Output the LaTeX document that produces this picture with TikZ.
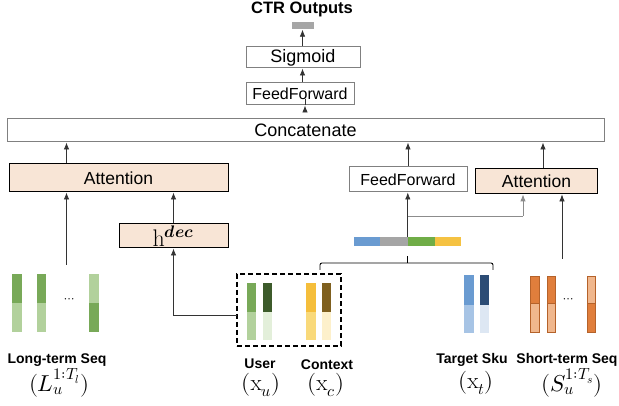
\documentclass[tikz,border=0pt]{standalone}
\usepackage{amsmath}
\usepackage{fontspec}
\usepackage{unicode-math}
\setmathfont{Latin Modern Math}
\setsansfont{Liberation Sans}
\usepackage{tikz}
\usetikzlibrary{calc}
\usetikzlibrary{arrows.meta}
\usetikzlibrary{positioning}
\definecolor{peach}{HTML}{F8E5D6}
\definecolor{gdark}{HTML}{78A958}
\definecolor{glight}{HTML}{B2D19C}
\definecolor{udark}{HTML}{3D5B2B}
\definecolor{ulight}{HTML}{E3EFDA}
\definecolor{cdark}{HTML}{F5BE3B}
\definecolor{clight}{HTML}{F9D97A}
\definecolor{cbrown}{HTML}{7F601F}
\definecolor{cpale}{HTML}{FDF0CB}
\definecolor{tdark}{HTML}{6A9BD1}
\definecolor{tlight}{HTML}{A7C4E5}
\definecolor{tnavy}{HTML}{2C4C75}
\definecolor{tpale}{HTML}{DDE7F3}
\definecolor{odark}{HTML}{E07E3C}
\definecolor{olight}{HTML}{F0B78D}
\definecolor{obord}{HTML}{B5622A}
\definecolor{embgray}{HTML}{A5A5A5}
\definecolor{embgreen}{HTML}{70AD47}
\definecolor{embyellow}{HTML}{F5C242}

\begin{document}
\begin{tikzpicture}[x=1pt,y=-1pt,
every node/.style={font=\sffamily},
box/.style={draw=black!50,line width=1pt,fill=white,inner sep=0pt},
attbox/.style={draw=black,line width=1pt,fill=peach,inner sep=0pt},
cell/.style={inner sep=0pt,minimum width=9.5pt,minimum height=29pt},
ocell/.style={cell,draw=obord,line width=.8pt,minimum width=8.5pt},
emb/.style={inner sep=0pt,minimum width=27pt,minimum height=9pt},
lbl/.style={font=\sffamily\bfseries\fontsize{14}{16}\selectfont},
mlbl/.style={font=\fontsize{23}{26}\selectfont},
-->/.style={->,>={Latex[length=7pt,width=5.5pt]},line width=.75pt,draw=black!80},
bus/.style={line width=.9pt,draw=black!45},
]
\useasboundingbox (0,0) rectangle (619,406);

\node[font=\sffamily\bfseries\fontsize{16.5}{18}\selectfont] (ctr) at (302,9) {CTR Outputs};
\node[fill=black!35,minimum width=22pt,minimum height=7pt,inner sep=0pt] (out) at (302.5,26) {};
\node[box,minimum width=114pt,minimum height=21pt,font=\sffamily\fontsize{18}{20}\selectfont] (sigmoid) at (303,57.5) {Sigmoid};
\node[box,minimum width=108pt,minimum height=22pt,font=\sffamily\fontsize{16}{18}\selectfont] (ffTop) at (300,94) {FeedForward};
\node[box,minimum width=597pt,minimum height=23pt,font=\sffamily\fontsize{18}{20}\selectfont] (concat) at (305.5,130.5) {Concatenate};

\node[attbox,minimum width=219pt,minimum height=28pt,font=\sffamily\fontsize{17.5}{19}\selectfont] (attL) at (118.5,178) {Attention};
\node[attbox,minimum width=109pt,minimum height=24pt,font=\fontsize{24}{24}\selectfont] (hdec) at (173.5,236) {$\mathrm{h}^{\symbfit{dec}}$};
\node[box,minimum width=118pt,minimum height=25pt,font=\sffamily\fontsize{16}{18}\selectfont] (ffMid) at (408,179.5) {FeedForward};
\node[attbox,line width=1.8pt,minimum width=122pt,minimum height=25pt,font=\sffamily\fontsize{17.5}{19}\selectfont] (attR) at (536.5,181) {Attention};

\node[emb,fill=tdark] (emb1) at (367,241.5) {};
\node[emb,fill=embgray,minimum width=28pt] (emb2) at (394,241.5) {};
\node[emb,fill=embgreen] (emb3) at (421.5,241.5) {};
\node[emb,fill=embyellow,minimum width=26pt] (emb4) at (448,241.5) {};

\node[draw,line width=1.2pt,dash pattern=on 5pt off 3pt,minimum width=104pt,minimum height=72pt,inner sep=0pt] (ctxbox) at (289,310) {};

\node[cell,fill=gdark] (l1a) at (17,288.5) {};
\node[cell,fill=glight] (l1b) at (17,317.5) {};
\node[cell,fill=gdark] (l2a) at (41.5,288.5) {};
\node[cell,fill=glight] (l2b) at (41.5,317.5) {};
\node[font=\fontsize{13}{13}\selectfont] (ltdots) at (70,301) {$\cdots$};
\node[cell,fill=glight] (l3a) at (94,288.5) {};
\node[cell,fill=gdark] (l3b) at (94,317.5) {};

\node[cell,fill=gdark] (u1a) at (251.5,297.5) {};
\node[cell,fill=glight,minimum height=28pt] (u1b) at (251.5,326) {};
\node[cell,fill=udark] (u2a) at (267.5,297.5) {};
\node[cell,fill=ulight,minimum height=28pt] (u2b) at (267.5,326) {};
\node[cell,fill=cdark] (c1a) at (311,297.5) {};
\node[cell,fill=clight,minimum height=28pt] (c1b) at (311,326) {};
\node[cell,fill=cbrown] (c2a) at (326.5,297.5) {};
\node[cell,fill=cpale,minimum height=28pt] (c2b) at (326.5,326) {};

\node[cell,fill=tdark,minimum height=30pt] (t1a) at (469,290) {};
\node[cell,fill=tlight,minimum height=28pt] (t1b) at (469,319) {};
\node[cell,fill=tnavy,minimum height=30pt] (t2a) at (484.5,290) {};
\node[cell,fill=tpale,minimum height=28pt] (t2b) at (484.5,319) {};

\node[ocell,fill=odark,minimum height=27pt] (s1a) at (535,289.5) {};
\node[ocell,fill=olight] (s1b) at (535,317.5) {};
\node[ocell,fill=odark,minimum height=27pt] (s2a) at (551.5,289.5) {};
\node[ocell,fill=olight] (s2b) at (551.5,317.5) {};
\node[font=\fontsize{13}{13}\selectfont] (stdots) at (569,301) {$\cdots$};
\node[ocell,fill=olight,minimum height=27pt] (s3a) at (591.5,289.5) {};
\node[ocell,fill=odark] (s3b) at (591.5,317.5) {};

\node[lbl] (ltLbl) at (57,360) {Long-term Seq};
\node[mlbl] (ltSym) at (59,383) {$(L_u^{1:T_l})$};
\node[lbl] (uLbl) at (260,364) {User};
\node[mlbl] (uSym) at (261,385) {$(\mathrm{x}_u)$};
\node[lbl] (cLbl) at (327,365) {Context};
\node[mlbl] (cSym) at (326,385) {$(\mathrm{x}_c)$};
\node[lbl] (tLbl) at (472,360) {Target Sku};
\node[mlbl] (tSym) at (476,383) {$(\mathrm{x}_t)$};
\node[lbl] (sLbl) at (567,360) {Short-term Seq};
\node[mlbl] (sSym) at (572,383) {$(S_u^{1:T_s})$};

\coordinate (ltIn) at (66.5,265);
\coordinate (stIn) at (562,259);
\coordinate (busL) at (408,216);
\coordinate (busR) at (523,216);
\coordinate (attRout) at (543,168);
\coordinate (ctxOut) at (237,315);

\draw[-->] (out.south |- sigmoid.north) -- (out.south);
\draw[-->] (out.south |- ffTop.north) -- (out.south |- sigmoid.south);
\draw[-->] ($(ffTop.south)+(5,0)$ |- concat.north) -- ($(ffTop.south)+(5,0)$);
\draw[-->] (ltIn |- attL.north) -- (ltIn |- concat.south);
\draw[-->] (ffMid.north) -- (ffMid.north |- concat.south);
\draw[-->] (attRout) -- (attRout |- concat.south);
\draw[-->] (ltIn) -- (ltIn |- attL.south);
\draw[-->] (hdec.north) -- (hdec.north |- attL.south);
\draw[-->] (ctxOut) -| (hdec.south);
\draw[-->] (emb3.north west) -- (emb3.north west |- ffMid.south);
\draw[bus] (busL) -- (busR);
\draw[-->,bus] (busR) -- (busR |- attR.south);
\draw[-->] (stIn) -- (stIn |- attR.south);

\draw[line width=.9pt,rounded corners=2pt] (320,270) -- (320,263) -- (493,263) -- (493,270);
\draw[line width=.9pt] (407,263) -- (407,256);

\end{tikzpicture}
\end{document}
